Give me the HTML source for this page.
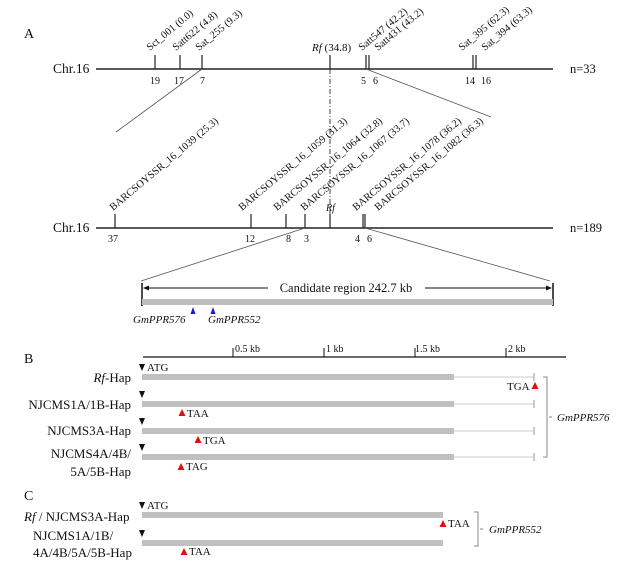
<!DOCTYPE html>
<html><head><meta charset="utf-8"><style>
html,body{margin:0;padding:0;background:#fff}
svg{display:block}
text{font-family:"Liberation Serif",serif;fill:#111}
</style></head><body>
<svg width="629" height="584" viewBox="0 0 629 584" xmlns="http://www.w3.org/2000/svg">
<!-- A -->
<text x="24" y="38" font-size="14">A</text>
<text x="53" y="73" font-size="13.5">Chr.16</text>
<line x1="96" y1="69" x2="553" y2="69" stroke="#222" stroke-width="1.5"/>
<text x="570" y="73" font-size="12.5">n=33</text>
<g stroke="#222" stroke-width="1.2">
<line x1="155" y1="55" x2="155" y2="69"/><line x1="180" y1="55" x2="180" y2="69"/><line x1="202" y1="55" x2="202" y2="69"/>
<line x1="330" y1="55" x2="330" y2="69"/><line x1="366" y1="55" x2="366" y2="69"/><line x1="369" y1="55" x2="369" y2="69"/>
<line x1="473" y1="55" x2="473" y2="69"/><line x1="476" y1="55" x2="476" y2="69"/>
</g>
<g font-size="10">
<text x="150" y="84">19</text><text x="174" y="84">17</text><text x="200" y="84">7</text>
<text x="361" y="84">5</text><text x="373" y="84">6</text><text x="465" y="84">14</text><text x="481" y="84">16</text>
</g>
<g font-size="10.5">
<text transform="translate(150,51) rotate(-40)">Sct_001 (0.0)</text>
<text transform="translate(176,51) rotate(-40)">Satt622 (4.8)</text>
<text transform="translate(199,51) rotate(-40)">Sat_255 (9.3)</text>
<text transform="translate(362,51) rotate(-40)">Satt547 (42.2)</text>
<text transform="translate(378,51) rotate(-40)">Satt431 (43.2)</text>
<text transform="translate(462,51) rotate(-40)">Sat_395 (62.3)</text>
<text transform="translate(485,51) rotate(-40)">Sat_394 (63.3)</text>
</g>
<text x="312" y="51" font-size="11"><tspan font-style="italic">Rf</tspan> (34.8)</text>
<line x1="202" y1="69" x2="116" y2="132" stroke="#555" stroke-width="0.8"/>
<line x1="366" y1="69" x2="491" y2="117" stroke="#555" stroke-width="0.8"/>
<line x1="330" y1="69" x2="330" y2="228" stroke="#333" stroke-width="0.9" stroke-dasharray="5,2,1,2"/>
<!-- chr2 -->
<text x="53" y="232" font-size="13.5">Chr.16</text>
<line x1="96" y1="228" x2="553" y2="228" stroke="#222" stroke-width="1.5"/>
<text x="570" y="232" font-size="12.5">n=189</text>
<g stroke="#222" stroke-width="1.2">
<line x1="115" y1="214" x2="115" y2="228"/><line x1="251" y1="214" x2="251" y2="228"/><line x1="286" y1="214" x2="286" y2="228"/>
<line x1="305" y1="214" x2="305" y2="228"/><line x1="330" y1="214" x2="330" y2="228"/><line x1="363" y1="214" x2="363" y2="228"/><line x1="365" y1="214" x2="365" y2="228"/>
</g>
<g font-size="10">
<text x="108" y="242">37</text><text x="245" y="242">12</text><text x="286" y="242">8</text><text x="304" y="242">3</text>
<text x="355" y="242">4</text><text x="367" y="242">6</text>
</g>
<g font-size="10.5">
<text transform="translate(113,211) rotate(-40)">BARCSOYSSR_16_1039 (25.3)</text>
<text transform="translate(242,211) rotate(-40)">BARCSOYSSR_16_1059 (31.3)</text>
<text transform="translate(277,211) rotate(-40)">BARCSOYSSR_16_1064 (32.8)</text>
<text transform="translate(304,211) rotate(-40)">BARCSOYSSR_16_1067 (33.7)</text>
<text transform="translate(356,211) rotate(-40)">BARCSOYSSR_16_1078 (36.2)</text>
<text transform="translate(378,211) rotate(-40)">BARCSOYSSR_16_1082 (36.3)</text>
</g>
<text x="326" y="211" font-size="10" font-style="italic">Rf</text>
<line x1="305" y1="228" x2="141" y2="281" stroke="#555" stroke-width="0.8"/>
<line x1="365" y1="228" x2="550" y2="281" stroke="#555" stroke-width="0.8"/>
<!-- candidate -->
<line x1="142" y1="283" x2="142" y2="306" stroke="#111" stroke-width="1.5"/>
<line x1="553" y1="283" x2="553" y2="306" stroke="#111" stroke-width="1.5"/>
<line x1="146" y1="288" x2="268" y2="288" stroke="#111" stroke-width="1"/>
<line x1="425" y1="288" x2="549" y2="288" stroke="#111" stroke-width="1"/>
<polygon points="143,288 149,285.5 149,290.5" fill="#111"/>
<polygon points="552,288 546,285.5 546,290.5" fill="#111"/>
<text x="346" y="292" font-size="12.5" text-anchor="middle">Candidate region 242.7 kb</text>
<rect x="142" y="299" width="411" height="6" fill="#bdbdbd"/>
<polygon points="193,307 190.5,314 195.5,314" fill="#1a1acc"/>
<polygon points="213,307 210.5,314 215.5,314" fill="#1a1acc"/>
<text x="133" y="323" font-size="11" font-style="italic">GmPPR576</text>
<text x="208" y="323" font-size="11" font-style="italic">GmPPR552</text>
<!-- B -->
<text x="24" y="363" font-size="14">B</text>
<line x1="143" y1="357" x2="566" y2="357" stroke="#111" stroke-width="1.2"/>
<g stroke="#111" stroke-width="1"><line x1="233" y1="348" x2="233" y2="357"/><line x1="324" y1="348" x2="324" y2="357"/><line x1="415" y1="348" x2="415" y2="357"/><line x1="506" y1="348" x2="506" y2="357"/></g>
<g font-size="10"><text x="235" y="352">0.5 kb</text><text x="326" y="352">1 kb</text><text x="415" y="352">1.5 kb</text><text x="508" y="352">2 kb</text></g>
<g fill="#c0c0c0">
<rect x="142" y="374" width="312" height="6"/><rect x="142" y="401" width="312" height="6"/>
<rect x="142" y="428" width="312" height="6"/><rect x="142" y="454" width="312" height="6"/>
<rect x="142" y="512" width="301" height="6"/><rect x="142" y="540" width="301" height="6"/>
</g>
<g stroke="#ddd" stroke-width="1.5">
<line x1="454" y1="377" x2="534" y2="377"/><line x1="454" y1="404" x2="534" y2="404"/>
<line x1="454" y1="431" x2="534" y2="431"/><line x1="454" y1="457" x2="534" y2="457"/>
</g>
<g stroke="#999" stroke-width="1">
<line x1="534" y1="373" x2="534" y2="381"/><line x1="534" y1="400" x2="534" y2="408"/>
<line x1="534" y1="427" x2="534" y2="435"/><line x1="534" y1="453" x2="534" y2="461"/>
</g>
<g fill="#111">
<polygon points="139,364 145,364 142,371"/><polygon points="139,391 145,391 142,398"/>
<polygon points="139,418 145,418 142,425"/><polygon points="139,444 145,444 142,451"/>
<polygon points="139,502 145,502 142,509"/><polygon points="139,530 145,530 142,537"/>
</g>
<g font-size="11"><text x="147" y="371">ATG</text><text x="147" y="509">ATG</text></g>
<g fill="#dd1111">
<polygon points="535,382 531.5,389 538.5,389"/>
<polygon points="182,409 178.5,416 185.5,416"/>
<polygon points="198,436 194.5,443 201.5,443"/>
<polygon points="181,463 177.5,470 184.5,470"/>
<polygon points="443,520 439.5,527 446.5,527"/>
<polygon points="184,548 180.5,555 187.5,555"/>
</g>
<g font-size="11">
<text x="507" y="390">TGA</text><text x="187" y="417">TAA</text><text x="203" y="444">TGA</text><text x="186" y="470">TAG</text>
<text x="448" y="527">TAA</text><text x="189" y="555">TAA</text>
</g>
<g font-size="13" text-anchor="end">
<text x="131" y="382"><tspan font-style="italic">Rf</tspan>-Hap</text>
<text x="131" y="409">NJCMS1A/1B-Hap</text>
<text x="131" y="435">NJCMS3A-Hap</text>
<text x="131" y="458">NJCMS4A/4B/</text>
<text x="131" y="476">5A/5B-Hap</text>
</g>
<polyline points="543,377 547,377 547,457 543,457" fill="none" stroke="#888" stroke-width="1"/>
<line x1="549" y1="417" x2="552" y2="417" stroke="#888"/>
<text x="557" y="421" font-size="11" font-style="italic">GmPPR576</text>
<!-- C -->
<text x="24" y="500" font-size="14">C</text>
<g font-size="13">
<text x="24" y="521"><tspan font-style="italic">Rf</tspan> / NJCMS3A-Hap</text>
<text x="33" y="540">NJCMS1A/1B/</text>
<text x="33" y="557">4A/4B/5A/5B-Hap</text>
</g>
<polyline points="474,512 478,512 478,546 474,546" fill="none" stroke="#888" stroke-width="1"/>
<line x1="480" y1="529" x2="483" y2="529" stroke="#888"/>
<text x="489" y="533" font-size="11" font-style="italic">GmPPR552</text>
</svg>
</body></html>
